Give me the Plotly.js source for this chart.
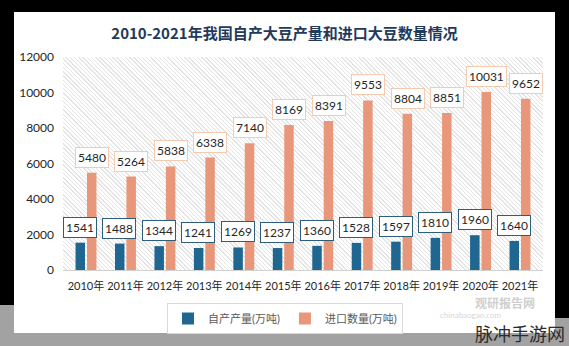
<!DOCTYPE html>
<html>
<head>
<meta charset="utf-8">
<script src="https://cdn.plot.ly/plotly-3.0.1.min.js"></script>
<style>
  html, body { margin:0; padding:0; background:#000; }
  #wrap { position:relative; width:569px; height:346px; overflow:hidden; background:#000; }
  #grayL { position:absolute; left:0; top:305px; width:14px; height:41px; background:#a2a2a2; }
  #grayB { position:absolute; left:0; top:333px; width:569px; height:13px; background:#a2a2a2; }
  #grayR { position:absolute; left:555px; top:318px; width:14px; height:28px; background:#a2a2a2; }
  #card { position:absolute; left:14px; top:12px; width:541px; height:321px; background:#fff; }
  #hatch { position:absolute; left:63px; top:57px; width:480px; height:213px;
    background: repeating-linear-gradient(45deg, #ffffff 0px, #ffffff 2px, #e4e4e4 2px, #e4e4e4 3px); }
  #chart { position:absolute; left:0; top:0; width:569px; height:346px; }
</style>
</head>
<body>
<div id="wrap">
  <div id="grayL"></div><div id="grayB"></div><div id="grayR"></div>
  <div id="card"></div>
  <div id="hatch"></div>
  <div id="chart"></div>
</div>
<script>
const years = ["2010年","2011年","2012年","2013年","2014年","2015年","2016年","2017年","2018年","2019年","2020年","2021年"];
const domestic = [1541,1488,1344,1241,1269,1237,1360,1528,1597,1810,1960,1640];
const imports = [5480,5264,5838,6338,7140,8169,8391,9553,8804,8851,10031,9652];
const seriesNames = ["自产产量(万吨)","进口数量(万吨)"];
const titleText = "2010-2021年我国自产大豆产量和进口大豆数量情况";

const FONT = "Lato, 'Noto Sans CJK SC', sans-serif";
const blue = "#1f6690", orange = "#e8977a";

const traces = [
  {type:"bar", name:seriesNames[0], x:years, y:domestic, marker:{color:blue}, hoverinfo:"none"},
  {type:"bar", name:seriesNames[1], x:years, y:imports, marker:{color:orange}, hoverinfo:"none"}
];

const annotations = [];
years.forEach((yr,i)=>{
  annotations.push({x:yr, y:domestic[i], xref:"x", yref:"y", text:String(domestic[i]), showarrow:false,
    xshift:-6, yshift:5, yanchor:"bottom", bgcolor:"#ffffff", bordercolor:"#2e5e7a", borderwidth:1, borderpad:2,
    font:{family:FONT, size:12, color:"#262626"}});
  annotations.push({x:yr, y:imports[i], xref:"x", yref:"y", text:String(imports[i]), showarrow:false,
    xshift:6, yshift:5, yanchor:"bottom", bgcolor:"#ffffff", bordercolor:"#f5cbb0", borderwidth:1, borderpad:2,
    font:{family:FONT, size:12, color:"#262626"}});
});
// watermarks
annotations.push({xref:"paper", yref:"paper", x:(505-63)/480, y:(270-302)/213, text:"<b>观研报告网</b>", showarrow:false,
  font:{family:"'Noto Sans CJK SC', sans-serif", size:12, color:"#cfcfcf"}, xanchor:"center", yanchor:"middle", borderpad:0});
annotations.push({xref:"paper", yref:"paper", x:(470-63)/480, y:(270-315)/213, text:"chinabaogao.com", showarrow:false,
  font:{family:FONT, size:8, color:"#d6d6d6"}, xanchor:"center", yanchor:"middle", borderpad:0});
annotations.push({xref:"paper", yref:"paper", x:(566-63)/480, y:(270-333)/213, text:"脉冲手游网", showarrow:false,
  font:{family:"'Noto Sans CJK SC', sans-serif", size:18, color:"#2a2a2a"}, xanchor:"right", yanchor:"middle", borderpad:0});

const layout = {
  width:569, height:346,
  margin:{l:63, r:26, t:57, b:76, pad:0},
  paper_bgcolor:"rgba(0,0,0,0)", plot_bgcolor:"rgba(0,0,0,0)",
  font:{family:FONT, size:12, color:"#404040"},
  title:{text:titleText, x:0.5, xref:"container", y:1-34/346, yref:"container", yanchor:"middle", xanchor:"center",
    font:{family:"'Noto Sans CJK SC', sans-serif", size:15, color:"#1f3a5a", weight:"bold"}},
  barmode:"group", bargap:0.42, bargroupgap:0.17,
  xaxis:{type:"category", showgrid:false, zeroline:false, showline:true, linecolor:"#d0d0d0", linewidth:1,
    ticks:"", tickangle:0, ticklabelstandoff:6, tickfont:{family:FONT, size:11, color:"#262626"}, fixedrange:true},
  yaxis:{range:[0,12000], dtick:2000, tickformat:"d", showgrid:false, zeroline:false, showline:false, ticks:"",
    ticklabelstandoff:8, tickfont:{family:FONT, size:12, color:"#262626"}, fixedrange:true},
  legend:{orientation:"h", x:(285-63)/480, xanchor:"center", y:(270-303)/213, yanchor:"top",
    bgcolor:"#ffffff", bordercolor:"#d9d9d9", borderwidth:1, itemwidth:30,
    font:{family:FONT, size:11, color:"#595959"}},
  annotations:annotations,
  showlegend:true
};
Plotly.newPlot("chart", traces, layout, {displayModeBar:false, staticPlot:true});
</script>
</body>
</html>
